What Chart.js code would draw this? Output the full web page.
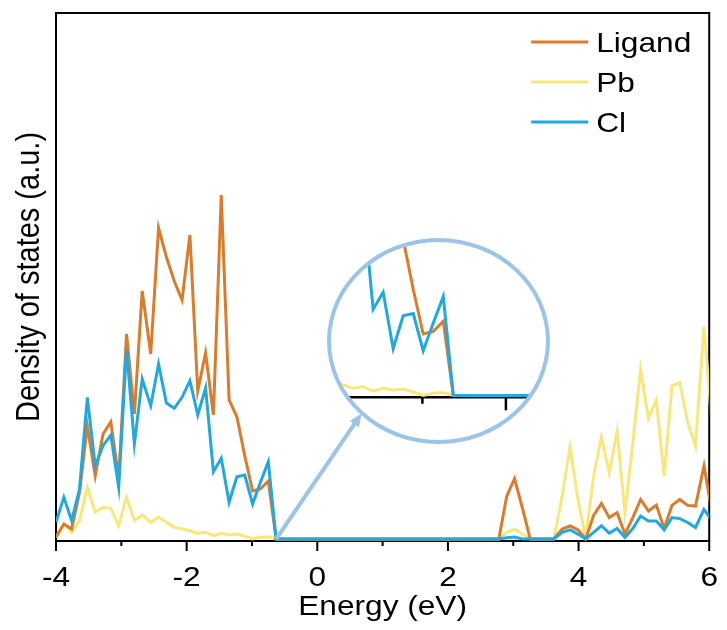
<!DOCTYPE html>
<html><head><meta charset="utf-8">
<script src="https://cdn.jsdelivr.net/npm/chart.js@4.4.1/dist/chart.umd.min.js"></script>
<style>
html,body{margin:0;padding:0;background:#fff;}
#wrap{position:relative;width:727px;height:630px;overflow:hidden;}
#main{position:absolute;left:0;top:0;}
#lens{position:absolute;left:327px;top:238px;width:215px;height:198px;border:4px solid #9DC3E6;border-radius:50%;overflow:hidden;background:#fff;}
#inset{position:absolute;left:0;top:0;}
</style></head><body>
<div id="wrap">
<canvas id="main" width="727" height="630"></canvas>
<div id="lens"><canvas id="inset" width="215" height="198"></canvas></div>
</div>
<script>
// ---- data ----
const energy = [-4.00,-3.88,-3.76,-3.64,-3.52,-3.40,-3.28,-3.16,-3.04,-2.92,-2.80,-2.68,-2.55,-2.43,-2.31,-2.19,-2.07,-1.95,-1.83,-1.71,-1.59,-1.47,-1.35,-1.23,-1.11,-0.99,-0.87,-0.75,-0.63,
  2.78,2.90,3.02,3.14,3.26,3.38,3.50,3.62,3.75,3.87,3.99,4.11,4.23,4.35,4.47,4.59,4.71,4.83,4.95,5.07,5.19,5.31,5.43,5.55,5.67,5.79,5.92,6.04];
const ligand = [1.7,15,10,46.7,113,63,105,117,60,205,125,248,185,311,282,258,239,304,148,186,124,344,139,122,83,48,50,58,0,
  0,42.8,60.3,31,0,0,0,0,9.9,13.2,9.2,0,23.7,35.6,21.4,26.3,4.9,21.4,39.5,28,33.9,10.5,33.6,39.5,33.6,32.9,73.1,27.7];
const pb = [1.7,15,6.7,18.3,51.7,26.7,31.7,30.7,13.3,41.7,18.3,24,16.7,21.7,16.7,11.7,10,8.3,5.7,6.7,3.3,5.7,4,5,2.7,0,1.7,2.3,0,
  0,6.6,9.9,4.9,0,0,0,0,43,92.2,39.5,0.7,62.6,102,65.9,107.7,26.3,95.5,169.6,120.2,139,62.6,153.2,156.5,117,92.9,212.5,116];
const cl = [16.7,41.7,18.3,50,141.7,73.3,93.3,104,51.7,190,95,160,133.3,175,136,130.7,141.7,158.3,124,151,67.3,80.7,36.7,62.3,64,35,56.7,77.3,0,
  0,1.3,2,0,0,0,0,0,6.6,9.2,4.9,0,6.6,13.2,5.9,10.5,1.6,10.5,23,18.1,18.1,9.2,21.4,20.4,16.5,11.5,29.6,18.8];
const seriesNames = ['Ligand','Pb','Cl'];
const xTickValues = [-4,-3,-2,-1,0,1,2,3,4,5,6];
const xTitle = 'Energy (eV)';
const yTitle = 'Density of states (a.u.)';

// ---- styles ----
const FONT = "'Liberation Sans', Arial, sans-serif";
const TEXT_STRETCH = 1.13;   // reference glyphs are drawn slightly wide (horizontally)
const COLORS = {Ligand:'#DB7B2B', Pb:'#F9E77C', Cl:'#20A8E0'};
const ORDER = {Ligand:1, Pb:2, Cl:0};
const LENS = '#9DC3E6';
const seriesData = {Ligand: ligand, Pb: pb, Cl: cl};

function buildDatasets(){
  return seriesNames.map(n => ({
    label: n,
    data: energy.map((x,i)=>({x:x, y:seriesData[n][i]})),
    borderColor: COLORS[n], backgroundColor: COLORS[n],
    borderWidth: 3, pointRadius: 0, tension: 0, fill: false,
    order: ORDER[n], borderJoinStyle: 'miter'
  }));
}

// widen text horizontally on screen around its anchor point
const stretchText = {
  id: 'stretchText',
  beforeInit(chart){
    const ctx = chart.ctx;
    if (ctx.__stretched) return;
    const orig = ctx.fillText;
    ctx.fillText = function(t, x, y){
      const m = this.getTransform();
      this.save(); this.translate(x, y);
      if (Math.abs(m.b) < 1e-6 && Math.abs(m.c) < 1e-6) this.scale(TEXT_STRETCH, 1);
      else this.scale(1, TEXT_STRETCH);
      orig.call(this, t, 0, 0); this.restore();
    };
    ctx.__stretched = true;
  }
};

const framePlugin = {
  id: 'frame',
  beforeDatasetsDraw(chart){
    const {ctx, chartArea:a, scales:{x}} = chart;
    ctx.save();
    ctx.strokeStyle = '#000'; ctx.lineWidth = 2;
    ctx.strokeRect(a.left, a.top, a.right - a.left, a.bottom - a.top);
    xTickValues.forEach(v => {
      const px = x.getPixelForValue(v);
      const len = (v % 2 === 0) ? 10 : 5;
      ctx.beginPath(); ctx.moveTo(px, a.bottom); ctx.lineTo(px, a.bottom + len); ctx.stroke();
    });
    ctx.restore();
  },
  afterDatasetsDraw(chart){
    const {ctx, chartArea:a, scales:{x, y}} = chart;
    ctx.save();
    // legend
    const ds = chart.data.datasets;
    ctx.font = '28px ' + FONT; ctx.textBaseline = 'alphabetic'; ctx.textAlign = 'left'; ctx.fillStyle = '#000';
    seriesNames.forEach((n, i) => {
      const d = ds.find(e => e.label === n);
      const ly = a.top + 29 + i * 40;
      ctx.strokeStyle = d.borderColor; ctx.lineWidth = 3;
      ctx.beginPath(); ctx.moveTo(a.right - 178, ly); ctx.lineTo(a.right - 121, ly); ctx.stroke();
      ctx.fillText(n, a.right - 113, ly + 10);
    });
    // arrow from the band edge to the magnifier
    const sx = x.getPixelForValue(-0.63), sy = y.getPixelForValue(0);
    const ex = 361.7, ey = 413.3;
    const ang = Math.atan2(ey - sy, ex - sx);
    ctx.strokeStyle = LENS; ctx.fillStyle = LENS; ctx.lineWidth = 4; ctx.lineCap = 'butt';
    ctx.beginPath(); ctx.moveTo(sx, sy); ctx.lineTo(ex - 8*Math.cos(ang), ey - 8*Math.sin(ang)); ctx.stroke();
    ctx.beginPath();
    ctx.moveTo(ex, ey);
    ctx.lineTo(ex - 13*Math.cos(ang) + 5.5*Math.sin(ang), ey - 13*Math.sin(ang) - 5.5*Math.cos(ang));
    ctx.lineTo(ex - 13*Math.cos(ang) - 5.5*Math.sin(ang), ey - 13*Math.sin(ang) + 5.5*Math.cos(ang));
    ctx.closePath(); ctx.fill();
    ctx.restore();
  }
};

new Chart(document.getElementById('main'), {
  type: 'line',
  data: {datasets: buildDatasets()},
  options: {
    responsive: false, animation: false, devicePixelRatio: 1,
    layout: {padding: {top: 13, right: 14, left: 0, bottom: 0}},
    plugins: {legend: {display: false}, tooltip: {enabled: false}},
    scales: {
      x: {
        type: 'linear', min: -4, max: 6,
        afterFit(s){ s.height = 89; },
        grid: {display: true, drawOnChartArea: false, drawTicks: true, tickLength: 10, tickColor: 'rgba(0,0,0,0)'},
        border: {display: false},
        ticks: {stepSize: 1, autoSkip: false, maxRotation: 0, minRotation: 0, padding: 10, color: '#000',
          font: {family: FONT, size: 28, lineHeight: 1.2},
          callback: (v) => (v % 2 === 0 ? String(v) : '')},
        title: {display: true, text: xTitle, color: '#000', font: {family: FONT, size: 28, lineHeight: 1.2}, padding: {top: 0, bottom: 6}}
      },
      y: {
        type: 'linear', min: -2, max: 526,
        afterFit(s){ s.width = 56; },
        grid: {display: false}, border: {display: false}, ticks: {display: false},
        title: {display: true, text: yTitle, color: '#000', font: {family: FONT, size: 29, lineHeight: 1.2}, padding: {top: 13, bottom: 0}}
      }
    }
  },
  plugins: [stretchText, framePlugin]
});

// ---- magnified inset ----
const insetAxis = {
  id: 'insetAxis',
  beforeDatasetsDraw(chart){
    const {ctx, chartArea:a, scales:{x, y}} = chart;
    const ay = y.getPixelForValue(0) + 1.8;
    ctx.save();
    ctx.strokeStyle = '#000'; ctx.lineWidth = 2.5;
    ctx.beginPath(); ctx.moveTo(a.left, ay); ctx.lineTo(a.right, ay); ctx.stroke();
    [-2, -1, 0].forEach(v => {
      const px = x.getPixelForValue(v);
      const len = (v % 2 === 0) ? 13 : 6.5;
      ctx.beginPath(); ctx.moveTo(px, ay); ctx.lineTo(px, ay + len); ctx.stroke();
    });
    ctx.restore();
  }
};
new Chart(document.getElementById('inset'), {
  type: 'line',
  data: {datasets: buildDatasets()},
  options: {
    responsive: false, animation: false, devicePixelRatio: 1,
    layout: {padding: 0},
    plugins: {legend: {display: false}, tooltip: {enabled: false}},
    scales: {
      x: {type: 'linear', display: false, min: -2.0946, max: 0.4802},
      y: {type: 'linear', display: false, min: -34.8, max: 119.9}
    }
  },
  plugins: [insetAxis]
});
</script>
</body></html>
